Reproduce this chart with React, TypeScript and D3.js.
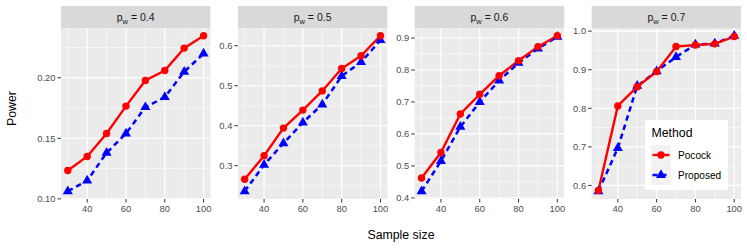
import * as d3 from "d3";

const sampleSizes = [30, 40, 50, 60, 70, 80, 90, 100];
const xTicks = [40, 60, 80, 100];
const xMinor = [30, 50, 70, 90];
const panelLabels = ["0.4", "0.5", "0.6", "0.7"];

const pocock04 = [0.1234, 0.135, 0.154, 0.1766, 0.1978, 0.206, 0.2245, 0.2347];
const proposed04 = [0.1063, 0.115, 0.138, 0.154, 0.1757, 0.184, 0.205, 0.2199];
const pocock05 = [0.266, 0.325, 0.394, 0.439, 0.487, 0.543, 0.575, 0.625];
const proposed05 = [0.236, 0.302, 0.356, 0.408, 0.453, 0.524, 0.559, 0.614];
const pocock06 = [0.4625, 0.542, 0.6625, 0.724, 0.782, 0.829, 0.873, 0.907];
const proposed06 = [0.421, 0.515, 0.622, 0.7, 0.767, 0.822, 0.867, 0.904];
const pocock07 = [0.587, 0.806, 0.856, 0.895, 0.96, 0.964, 0.967, 0.986];
const proposed07 = [0.585, 0.697, 0.858, 0.896, 0.933, 0.965, 0.968, 0.988];

const yTicks = [
  [0.1, 0.15, 0.2],
  [0.3, 0.4, 0.5, 0.6],
  [0.4, 0.5, 0.6, 0.7, 0.8, 0.9],
  [0.6, 0.7, 0.8, 0.9, 1.0],
];
const yTickLabels = [
  ["0.10", "0.15", "0.20"],
  ["0.3", "0.4", "0.5", "0.6"],
  ["0.4", "0.5", "0.6", "0.7", "0.8", "0.9"],
  ["0.6", "0.7", "0.8", "0.9", "1.0"],
];

const pocockSeries = [pocock04, pocock05, pocock06, pocock07];
const proposedSeries = [proposed04, proposed05, proposed06, proposed07];

const W = 747;
const H = 249;
const plotLeft = 61;
const plotRight = 741;
const gap = 27.5;
const panelW = (plotRight - plotLeft - 3 * gap) / 4;
const stripTop = 6;
const panelTop = 28;
const panelBottom = 199;
const FONT = "'Liberation Sans', Arial, sans-serif";
const RED = "#FF0000";
const BLUE = "#0000FF";

const triangle = d3.symbol(d3.symbolTriangle, 44)()!;

function Panel({ i }: { i: number }) {
  const x0 = plotLeft + i * (panelW + gap);
  const x1 = x0 + panelW;
  const all = [...pocockSeries[i], ...proposedSeries[i]];
  const [lo, hi] = d3.extent(all) as [number, number];
  const pad = (hi - lo) * 0.05;
  const x = d3.scaleLinear().domain([26.5, 103.5]).range([x0, x1]);
  const y = d3.scaleLinear().domain([lo - pad, hi + pad]).range([panelBottom, panelTop]);
  const ticks = yTicks[i];
  const step = ticks[1] - ticks[0];
  const minors = [ticks[0] - step / 2, ...ticks.map((t) => t + step / 2)].filter(
    (v) => v >= lo - pad && v <= hi + pad
  );
  const line = d3
    .line<number>()
    .x((_, k) => x(sampleSizes[k]))
    .y((d) => y(d));
  const cx = (x0 + x1) / 2;
  return (
    <g>
      <rect x={x0} y={stripTop} width={panelW} height={panelTop - stripTop} fill="#D9D9D9" />
      <text x={cx} y={21} textAnchor="middle" fontSize={10.5} fill="#1A1A1A" fontFamily={FONT}>
        p<tspan fontSize={7.5} dy={2.5}>w</tspan>
        <tspan dy={-2.5}> = {panelLabels[i]}</tspan>
      </text>
      <rect x={x0} y={panelTop} width={panelW} height={panelBottom - panelTop} fill="#EBEBEB" />
      {minors.map((v) => (
        <line key={"ym" + v} x1={x0} x2={x1} y1={y(v)} y2={y(v)} stroke="#fff" strokeWidth={0.6} />
      ))}
      {xMinor.map((v) => (
        <line key={"xm" + v} x1={x(v)} x2={x(v)} y1={panelTop} y2={panelBottom} stroke="#fff" strokeWidth={0.6} />
      ))}
      {ticks.map((v) => (
        <line key={"y" + v} x1={x0} x2={x1} y1={y(v)} y2={y(v)} stroke="#fff" strokeWidth={1.2} />
      ))}
      {xTicks.map((v) => (
        <line key={"x" + v} x1={x(v)} x2={x(v)} y1={panelTop} y2={panelBottom} stroke="#fff" strokeWidth={1.2} />
      ))}
      {ticks.map((v, k) => (
        <g key={"yt" + v}>
          <line x1={x0 - 3.5} x2={x0} y1={y(v)} y2={y(v)} stroke="#333" strokeWidth={1} />
          <text x={x0 - 5.5} y={y(v) + 3.3} textAnchor="end" fontSize={9.4} fill="#4D4D4D" fontFamily={FONT}>
            {yTickLabels[i][k]}
          </text>
        </g>
      ))}
      {xTicks.map((v) => (
        <g key={"xt" + v}>
          <line x1={x(v)} x2={x(v)} y1={panelBottom} y2={panelBottom + 3.5} stroke="#333" strokeWidth={1} />
          <text x={x(v)} y={panelBottom + 12.7} textAnchor="middle" fontSize={9.4} fill="#4D4D4D" fontFamily={FONT}>
            {v}
          </text>
        </g>
      ))}
      <path d={line(proposedSeries[i])!} fill="none" stroke={BLUE} strokeWidth={2.5} strokeDasharray="5.5,4" />
      <path d={line(pocockSeries[i])!} fill="none" stroke={RED} strokeWidth={2.4} />
      {proposedSeries[i].map((v, k) => (
        <path key={"pt" + k} d={triangle} transform={`translate(${x(sampleSizes[k])},${y(v)})`} fill={BLUE} />
      ))}
      {pocockSeries[i].map((v, k) => (
        <circle key={"pc" + k} cx={x(sampleSizes[k])} cy={y(v)} r={3.7} fill={RED} />
      ))}
    </g>
  );
}

function Legend() {
  const lx = 645;
  const ly = 120;
  const keyX = 651;
  const keyY = 145;
  const rows = [
    { label: "Pocock", color: RED, shape: "circle", dash: undefined },
    { label: "Proposed", color: BLUE, shape: "triangle", dash: "5,4" },
  ];
  return (
    <g fontFamily={FONT}>
      <rect x={lx} y={ly} width={83} height={70} fill="#fff" />
      <text x={651.5} y={137} fontSize={12.3} fill="#000">
        Method
      </text>
      {rows.map((r, k) => {
        const cy = keyY + 10 + k * 20;
        return (
          <g key={r.label}>
            <rect x={keyX} y={keyY + k * 20} width={20} height={20} fill="#F2F2F2" />
            <line x1={keyX + 1.5} x2={keyX + 18.5} y1={cy} y2={cy} stroke={r.color} strokeWidth={2.4} strokeDasharray={r.dash} />
            {r.shape === "circle" ? (
              <circle cx={keyX + 10} cy={cy} r={3.7} fill={r.color} />
            ) : (
              <path d={triangle} transform={`translate(${keyX + 10},${cy})`} fill={r.color} />
            )}
            <text x={678} y={cy + 3.5} fontSize={10.1} fill="#000">
              {r.label}
            </text>
          </g>
        );
      })}
    </g>
  );
}

export default function App() {
  return (
    <svg width={W} height={H} style={{ position: "absolute", left: 0, top: 0, background: "#fff" }}>
      {panelLabels.map((_, i) => (
        <Panel key={i} i={i} />
      ))}
      <Legend />
      <text x={(plotLeft + plotRight) / 2} y={239} textAnchor="middle" fontSize={12.3} fontFamily={FONT} fill="#000">
        Sample size
      </text>
      <text
        transform={`translate(16,${(panelTop + panelBottom) / 2 - 5}) rotate(-90)`}
        textAnchor="middle"
        fontSize={12.3}
        fontFamily={FONT}
        fill="#000"
      >
        Power
      </text>
    </svg>
  );
}
